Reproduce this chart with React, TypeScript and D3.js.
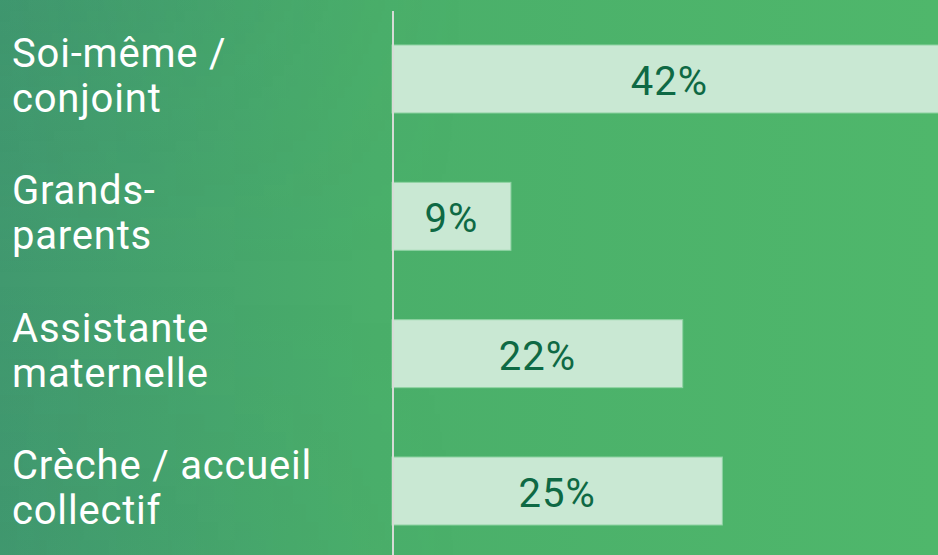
import React from "react";
import * as d3 from "d3";

const categories: string[][] = [
  ["Soi-même /", "conjoint"],
  ["Grands-", "parents"],
  ["Assistante", "maternelle"],
  ["Crèche / accueil", "collectif"],
];
const values: number[] = [42, 9, 22, 25];

const W = 938;
const H = 555;

export default function App() {
  const ids = categories.map((c) => c.join(" "));
  const x = d3.scaleLinear().domain([0, 42]).range([392, 947]);
  const y = d3.scaleBand<string>().domain(ids).range([45, 525]).paddingInner(0.505).paddingOuter(0);
  const bw = y.bandwidth();

  return (
    <div style={{ position: "fixed", left: 0, top: 0, width: W, height: H }}>
      <svg width={W} height={H} viewBox={`0 0 ${W} ${H}`} style={{ display: "block" }}>
        <defs>
          <linearGradient id="bg" x1="0" y1="0" x2="1" y2="0">
            <stop offset="0" stopColor="#41996f" />
            <stop offset="0.4" stopColor="#4aaf6a" />
            <stop offset="1" stopColor="#4fb76b" />
          </linearGradient>
          <linearGradient id="bgv" x1="0" y1="0" x2="0" y2="1">
            <stop offset="0" stopColor="#2f7f6a" stopOpacity="0.1" />
            <stop offset="0.5" stopColor="#2f7f6a" stopOpacity="0" />
            <stop offset="1" stopColor="#2f7f6a" stopOpacity="0.06" />
          </linearGradient>
          <linearGradient id="bgvmask" x1="0" y1="0" x2="1" y2="0">
            <stop offset="0" stopColor="#fff" stopOpacity="1" />
            <stop offset="0.5" stopColor="#fff" stopOpacity="0" />
          </linearGradient>
          <mask id="m">
            <rect x={0} y={0} width={W} height={H} fill="url(#bgvmask)" />
          </mask>
          <clipPath id="clip">
            <rect x={0} y={0} width={W} height={H} />
          </clipPath>
        </defs>
        <rect x={0} y={0} width={W} height={H} fill="url(#bg)" />
        <rect x={0} y={0} width={W} height={H} fill="url(#bgv)" mask="url(#m)" />
        <g clipPath="url(#clip)">
          {values.map((v, i) => {
            const yy = y(ids[i]) as number;
            const x1 = x(v);
            return (
              <g key={ids[i]}>
                <rect
                  x={x(0)}
                  y={yy}
                  width={x1 - x(0)}
                  height={bw}
                  fill="#c9e8d3"
                  stroke="#8fd3a3"
                  strokeWidth={1}
                />
                <text
                  x={(x(0) + x1) / 2}
                  y={yy + bw / 2 + 16}
                  textAnchor="middle"
                  fontFamily="Roboto, sans-serif"
                  fontSize={40}
                  fontWeight={400}
                  letterSpacing={1}
                  fill="#0e6944"
                >
                  {v}%
                </text>
              </g>
            );
          })}
        </g>
        <line x1={393} x2={393} y1={11} y2={H} stroke="#d6dbd6" strokeWidth={2} />
        {categories.map((lines, i) => {
          const c = (y(ids[i]) as number) + bw / 2;
          return (
            <text
              key={ids[i]}
              x={12}
              fontFamily="Roboto, sans-serif"
              fontSize={40}
              letterSpacing={0.8}
              fill="#ffffff"
            >
              {lines.map((l, j) => (
                <tspan key={j} x={12} y={c - 12 + j * 45}>
                  {l}
                </tspan>
              ))}
            </text>
          );
        })}
      </svg>
    </div>
  );
}
